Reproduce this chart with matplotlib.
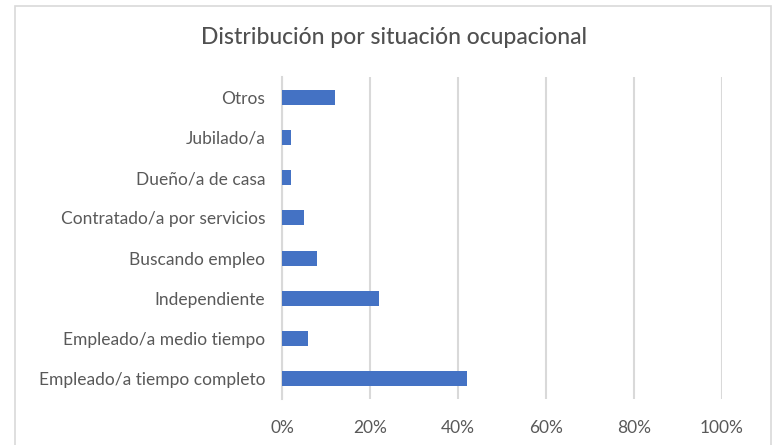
import matplotlib
matplotlib.use('Agg')
import matplotlib.pyplot as plt
from matplotlib.patches import Rectangle
from matplotlib.ticker import PercentFormatter

categories = ['Empleado/a tiempo completo', 'Empleado/a medio tiempo', 'Independiente',
              'Buscando empleo', 'Contratado/a por servicios', 'Dueño/a de casa',
              'Jubilado/a', 'Otros']
values = [42, 6, 22, 8, 5, 2, 2, 12]
xticks = [0, 20, 40, 60, 80, 100]

plt.rcParams['font.family'] = ['Lato', 'DejaVu Sans']
text_col = '#595959'
grid_col = '#d9d9d9'

fig = plt.figure(figsize=(7.77, 4.45), dpi=100)
fig.patches.append(Rectangle((15 / 777, -0.05), (771 - 15) / 777, 1.05 - 6 / 445,
                             transform=fig.transFigure, fill=False,
                             edgecolor=grid_col, linewidth=1.2))

ax = fig.add_axes([282 / 777, 1 - 399 / 445, (722 - 282) / 777, (399 - 77) / 445])
ax.barh(range(len(categories)), values, height=0.37, color='#4472c4', zorder=3)

ax.set_xlim(0, 100)
ax.set_ylim(-0.5, len(categories) - 0.5)
ax.set_xticks(xticks)
ax.xaxis.set_major_formatter(PercentFormatter(decimals=0))
ax.set_yticks(range(len(categories)))
ax.set_yticklabels(categories)
ax.grid(axis='x', color=grid_col, linewidth=1.5, zorder=0)
for s in ['top', 'right', 'bottom']:
    ax.spines[s].set_visible(False)
ax.spines['left'].set_color(grid_col)
ax.spines['left'].set_linewidth(1.5)
ax.tick_params(length=0, colors=text_col, labelsize=12.5)
ax.tick_params(axis='x', pad=15)
ax.tick_params(axis='y', pad=12)

fig.text(394 / 777, 1 - 37 / 445, 'Distribución por situación ocupacional',
         ha='center', va='center', fontsize=16.5, color='#505050', weight='medium')

fig.savefig('out.png', dpi=100)
